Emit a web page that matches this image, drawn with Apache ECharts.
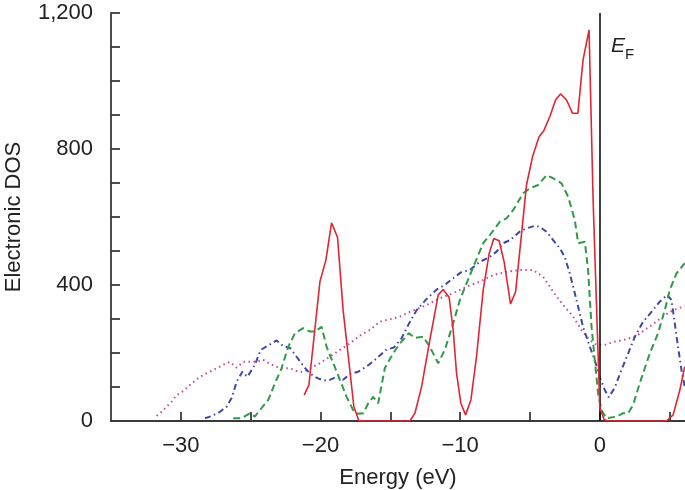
<!DOCTYPE html>
<html>
<head>
<meta charset="utf-8">
<script src="https://cdn.jsdelivr.net/npm/echarts@6/dist/echarts.min.js"></script>
<style>
html,body{margin:0;padding:0;background:#fff;}
#chart{width:685px;height:490px;}
</style>
</head>
<body>
<div id="chart"></div>
<script>
// ---- data (Energy in eV, DOS values) ----
const redE = [-21.17,-20.83,-20.04,-19.61,-19.21,-18.78,-18.38,-17.9,-17.61,-17.25,-16.8,-16.0,-15.2,-14.4,-13.6,-13.24,-12.76,-12.17,-11.57,-11.22,-10.79,-10.5,-10.26,-9.95,-9.61,-9.23,-8.83,-8.35,-7.92,-7.59,-7.21,-6.85,-6.39,-6.03,-5.6,-5.25,-4.82,-4.35,-4.01,-3.58,-3.17,-2.81,-2.38,-1.95,-1.57,-1.2,-0.77,-0.48,0.0,0.3,0.5,1.5,2.5,3.5,4.77,5.25,5.73,6.08];
const redDOS = [76,106,410,474,583,540,326,150,42,1,0,0,0,0,0,23,101,238,371,387,364,268,141,52,18,62,189,385,493,537,530,468,344,380,552,694,777,836,854,895,944,962,944,905,905,1062,1150,650,40,5,0,0,0,0,0,18,91,160];

const greenE = [-26.25,-25.65,-25.05,-24.7,-24.34,-23.74,-23.26,-22.79,-22.31,-21.83,-21.24,-20.76,-20.4,-19.92,-19.56,-19.09,-18.61,-18.13,-17.66,-17.3,-16.94,-16.58,-16.23,-15.87,-15.39,-14.8,-14.32,-13.67,-13.24,-12.65,-12.17,-11.57,-11.1,-10.5,-10.02,-9.54,-8.95,-8.35,-7.87,-7.16,-6.68,-6.21,-5.49,-5.01,-4.42,-3.82,-3.34,-2.74,-2.27,-1.79,-1.55,-1.07,-0.84,-0.59,-0.36,-0.12,0.12,0.48,1.2,1.67,2.03,2.38,2.86,3.58,4.17,4.65,5.01,5.49,6.08];
const greenDOS = [8,8,23,13,32,62,111,155,218,258,273,263,263,277,218,170,121,71,32,21,23,52,71,52,156,199,228,258,244,248,218,170,209,287,356,405,464,523,547,586,596,620,670,684,694,723,714,699,660,591,523,527,444,277,179,81,32,8,13,23,23,47,111,199,258,326,385,434,464];

const blueE = [-28.27,-27.77,-27.2,-26.72,-26.36,-26.0,-25.59,-25.23,-24.7,-24.28,-23.76,-23.14,-22.67,-22.19,-21.71,-21.19,-20.76,-20.22,-19.76,-19.33,-18.85,-18.38,-17.9,-17.3,-16.7,-15.98,-15.32,-14.75,-14.2,-13.72,-13.12,-12.4,-11.67,-11.1,-10.5,-9.95,-9.31,-8.59,-7.87,-7.37,-6.92,-6.44,-5.73,-5.23,-4.65,-4.29,-3.79,-3.34,-2.86,-2.51,-2.15,-1.67,-1.2,-0.72,-0.36,0.0,0.36,0.64,1.07,1.55,2.03,2.51,3.1,3.7,4.29,4.83,5.13,5.37,5.6,5.85,6.08];
const blueDOS = [8,15,27,42,68,116,145,130,165,209,222,237,220,215,189,160,140,126,119,121,130,121,138,145,160,184,209,216,243,282,326,359,387,400,420,437,444,468,483,499,523,532,557,567,574,571,556,532,508,483,434,356,277,219,179,128,91,70,98,150,199,248,292,321,351,371,356,287,218,150,101];

const magentaE = [-31.73,-31.37,-31.02,-30.66,-30.3,-29.83,-29.35,-28.87,-28.4,-27.92,-27.44,-26.97,-26.49,-26.0,-25.53,-25.05,-24.57,-24.1,-23.62,-23.14,-22.67,-22.19,-21.71,-21.24,-20.76,-20.04,-19.33,-18.61,-17.9,-17.18,-16.46,-15.75,-14.96,-14.32,-13.6,-13.0,-12.4,-11.45,-10.5,-9.54,-8.59,-7.64,-6.68,-5.73,-4.77,-4.06,-3.58,-3.1,-2.51,-1.91,-1.31,-0.72,-0.24,0.36,0.95,1.67,2.63,3.22,3.82,4.47,5.01,5.6,6.08];
const magentaDOS = [15,27,42,57,76,88,106,123,135,145,155,165,174,157,174,174,174,180,168,160,155,155,147,144,155,170,189,209,228,251,268,292,300,307,321,331,341,361,376,395,410,429,439,444,444,424,395,366,336,307,268,238,224,224,232,238,250,268,285,306,321,331,338];

const fermiLevel = 0;
const yTickLabels = [0, 400, 800, 1200];
const xTickLabels = [-30, -20, -10, 0];

function zip(a, b) { return a.map((v, i) => [v, b[i]]); }

const chart = echarts.init(document.getElementById('chart'), null, {renderer: 'canvas'});
const FONT = 'Liberation Sans, Arial, Helvetica, sans-serif';
const axisColor = '#3a3a3a';

chart.setOption({
  animation: false,
  backgroundColor: '#fff',
  grid: {left: 111, right: 0, top: 13, bottom: 69, containLabel: false, outerBoundsMode: 'none'},
  xAxis: {
    type: 'value', min: -35, max: 6.1, interval: 5,
    name: 'Energy (eV)', nameLocation: 'middle', nameGap: 46,
    nameTextStyle: {fontFamily: FONT, fontSize: 22, color: '#222'},
    axisLine: {show: true, onZero: false, lineStyle: {color: axisColor, width: 1.8}},
    axisTick: {show: true, inside: true, length: 9, lineStyle: {color: axisColor, width: 1.8}},
    splitLine: {show: false},
    axisLabel: {
      fontFamily: FONT, fontSize: 22, color: '#222', margin: 14,
      showMinLabel: false, showMaxLabel: false,
      formatter: v => xTickLabels.includes(Math.round(v)) && Math.abs(v - Math.round(v)) < 1e-6 ? (v < 0 ? '\u2212' + Math.abs(v) : String(v)) : ''
    }
  },
  yAxis: {
    type: 'value', min: 0, max: 1200, interval: 100,
    name: 'Electronic DOS', nameLocation: 'middle', nameGap: 86, nameRotate: 90,
    nameTextStyle: {fontFamily: FONT, fontSize: 22, color: '#222'},
    axisLine: {show: true, onZero: false, lineStyle: {color: axisColor, width: 1.8}},
    axisTick: {show: true, inside: true, length: 9, lineStyle: {color: axisColor, width: 1.8}},
    splitLine: {show: false},
    axisLabel: {
      fontFamily: FONT, fontSize: 22, color: '#222', margin: 18,
      formatter: v => yTickLabels.includes(v) ? v.toLocaleString('en-US') : ''
    }
  },
  graphic: [{
    type: 'text', left: 611, top: 36, z: 10,
    style: {
      text: '{e|E}{f|F}',
      rich: {
        e: {fontFamily: FONT, fontStyle: 'italic', fontSize: 21, fill: '#222', verticalAlign: 'bottom'},
        f: {fontFamily: FONT, fontSize: 15, fill: '#222', verticalAlign: 'bottom', padding: [0, 0, -5, 0]}
      }
    }
  }],
  series: [
    {
      name: 'magenta', type: 'line', data: zip(magentaE, magentaDOS), showSymbol: false, symbol: 'none',
      lineStyle: {color: '#c4489c', width: 2, type: [1.5, 3.5]}, z: 2
    },
    {
      name: 'blue', type: 'line', data: zip(blueE, blueDOS), showSymbol: false, symbol: 'none',
      lineStyle: {color: '#3c48a8', width: 2, type: [6, 3.5, 1.5, 3.5]}, z: 3
    },
    {
      name: 'green', type: 'line', data: zip(greenE, greenDOS), showSymbol: false, symbol: 'none',
      lineStyle: {color: '#2f9a48', width: 2, type: [7, 4]}, z: 4
    },
    {
      name: 'red', type: 'line', data: zip(redE, redDOS), showSymbol: false, symbol: 'none',
      lineStyle: {color: '#e02632', width: 1.6}, z: 5,
      markLine: {
        silent: true, symbol: 'none', label: {show: false},
        lineStyle: {color: '#111', width: 1.6, type: 'solid'},
        data: [{xAxis: fermiLevel}]
      }
    }
  ]
});
</script>
</body>
</html>
